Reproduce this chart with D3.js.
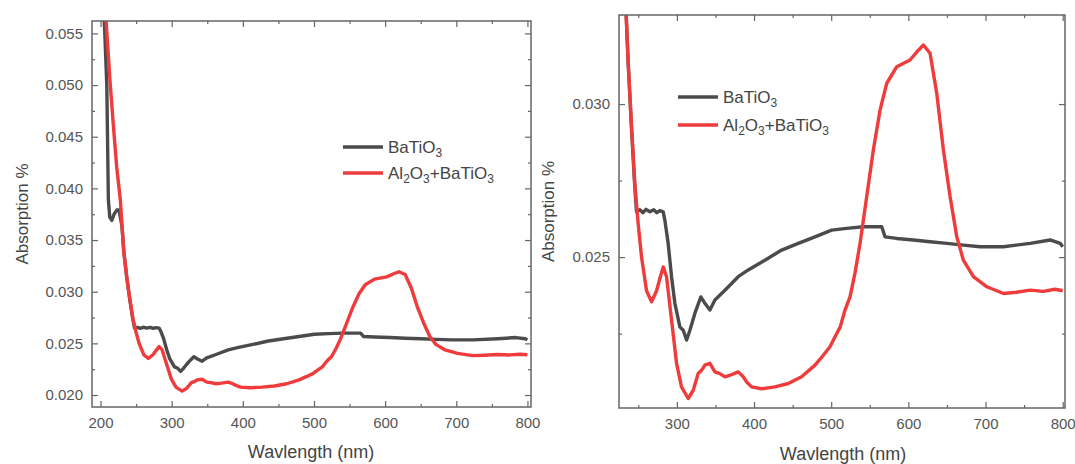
<!DOCTYPE html>
<html>
<head>
<meta charset="utf-8">
<script src="https://cdn.jsdelivr.net/npm/d3@7"></script>
<style>
  body { margin: 0; background: #fff; }
  svg { font-family: "Liberation Sans", Arial, sans-serif; }
  .tick text { fill: #555; font-size: 15px; }
  .tick line { stroke: #666; stroke-width: 1.2; }
</style>
</head>
<body>
<script>
// BaTiO3 spectrum (gray)
var batioWl = [202, 204, 206, 208.8, 211, 213, 215.9, 219, 222.8, 226, 230, 233, 237, 241, 245, 247.7, 252, 256, 260, 265, 270, 274, 278, 282.3,
  284.4, 288.7, 293.1, 297.4, 303.9, 308.2, 312.6, 316.9, 323.3, 331.1, 336.3, 342.8, 349.3, 362.3, 379.5, 392.5, 414.1, 435.8,
  457.3, 479, 500.6, 520, 541.6, 565.5, 569.8, 585, 606.5, 628.1, 649.8, 671.3, 693, 723.3, 757.9, 783.8, 796.8, 800];
var batioAbs = [0.062, 0.058, 0.055, 0.050, 0.0389, 0.0372, 0.0369, 0.0375, 0.0379, 0.0379, 0.0364, 0.0337, 0.0313, 0.0293, 0.0275, 0.02648,
  0.02655, 0.02645, 0.02656, 0.02648, 0.02655, 0.02645, 0.02652, 0.02648,
  0.02621, 0.02545, 0.02436, 0.02349, 0.02272, 0.02261, 0.02229, 0.02261, 0.02316, 0.0237, 0.02349, 0.02327, 0.0236, 0.02392, 0.02436, 0.02458, 0.0249, 0.02523,
  0.02545, 0.02566, 0.02588, 0.02594, 0.02599, 0.02599, 0.02566, 0.02561, 0.02556, 0.0255, 0.02545, 0.02539, 0.02534, 0.02534, 0.02545, 0.02556, 0.02545, 0.02534];

// Al2O3+BaTiO3 spectrum (red)
var alWl = [205, 208, 213.5, 218, 222.8, 227.8, 232.5, 236.8, 241.2, 245.5, 249.8, 254.2, 260.7, 267.2, 273.7, 278, 282.3, 286.6, 293.1, 299.6,
  306, 314.7, 321.2, 327.6, 332, 336.3, 342.8, 349.3, 355, 362.3, 370, 379.5, 386, 391, 396.9, 409.9, 427.1, 444.4, 461.7, 479, 490,
  498.4, 505, 511.7, 517.9, 524.4, 531, 537.4, 546, 554.6, 563.3, 572, 585, 602.2, 613, 619.5, 628.1, 636.8, 645.4, 654.1, 662.8,
  671.3, 684.3, 701.7, 723.3, 740, 757.9, 775, 790, 800];
var alAbs = [0.0590, 0.0560, 0.0502, 0.0461, 0.0420, 0.0389, 0.0340, 0.0314, 0.0293, 0.0274, 0.0261, 0.0250, 0.0239, 0.02354, 0.0239, 0.0243,
  0.02468, 0.02436, 0.02294, 0.02153, 0.02076, 0.02038, 0.02065, 0.0212, 0.0213, 0.02147, 0.02153, 0.02125, 0.0212, 0.02109, 0.02115,
  0.02125, 0.02109, 0.0209, 0.02076, 0.0207, 0.02076, 0.02087, 0.02109, 0.02147, 0.0218, 0.02207, 0.0224, 0.02272, 0.02327, 0.0237,
  0.0245, 0.02545, 0.02697, 0.0285, 0.0298, 0.03068, 0.03122, 0.03144, 0.03176, 0.03193, 0.03166, 0.03035, 0.0285, 0.02697, 0.02566,
  0.0249, 0.02436, 0.02403, 0.02381, 0.02385, 0.02392, 0.02388, 0.02395, 0.0239];

var seriesNames = ['BaTiO3', 'Al2O3+BaTiO3'];
var seriesColors = ['#4b4b4b', '#ef3b3b'];

var leftXTicks = [200, 300, 400, 500, 600, 700, 800];
var leftXMinor = [250, 350, 450, 550, 650, 750];
var leftYTicks = [0.020, 0.025, 0.030, 0.035, 0.040, 0.045, 0.050, 0.055];
var leftYMinor = [0.0225, 0.0275, 0.0325, 0.0375, 0.0425, 0.0475, 0.0525];
var rightXTicks = [300, 400, 500, 600, 700, 800];
var rightXMinor = [250, 350, 450, 550, 650, 750];
var rightYTicks = [0.025, 0.030];
var rightYMinor = [0.0225, 0.0275];

var svg = d3.select('body').append('svg')
            .attr('width', 1075)
            .attr('height', 464);

var panels = [
  { id: 'p1', left: 92, right: 531, top: 21, bottom: 407, xDomain: [188, 805], yDomain: [0.01884, 0.0562],
    xTicks: leftXTicks, xMinor: leftXMinor, yTicks: leftYTicks, yMinor: leftYMinor,
    yLabelX: 22, xLabelX: 311, xLabelY: 458, legend: { x: 343, y: 147, gap: 26 } },
  { id: 'p2', left: 619, right: 1065, top: 15, bottom: 408, xDomain: [225, 803], yDomain: [0.02007, 0.03291],
    xTicks: rightXTicks, xMinor: rightXMinor, yTicks: rightYTicks, yMinor: rightYMinor,
    yLabelX: 548, xLabelX: 843, xLabelY: 460, legend: { x: 678, y: 97, gap: 28 } }
];

var series = [
  batioWl.map(function(w, i){ return [w, batioAbs[i]]; }),
  alWl.map(function(w, i){ return [w, alAbs[i]]; })
];

panels.forEach(function(p){
  var x = d3.scaleLinear().domain(p.xDomain).range([p.left, p.right]);
  var y = d3.scaleLinear().domain(p.yDomain).range([p.bottom, p.top]);
  var g = svg.append('g').classed(p.id, true);

  g.append('clipPath').attr('id', 'clip-' + p.id)
   .append('rect')
   .attr('x', p.left).attr('y', p.top)
   .attr('width', p.right - p.left).attr('height', p.bottom - p.top);

  var line = d3.line()
               .x(function(d){ return x(d[0]); })
               .y(function(d){ return y(d[1]); });

  g.append('g').attr('clip-path', 'url(#clip-' + p.id + ')')
   .selectAll('path')
   .data(series)
   .enter()
   .append('path')
   .attr('d', line)
   .attr('fill', 'none')
   .attr('stroke', function(d, i){ return seriesColors[i]; })
   .attr('stroke-width', 3.4)
   .attr('stroke-linejoin', 'round');

  // ticks point inward on all four sides
  var fmt = d3.format('.3f');
  var bottomAxis = g.append('g').attr('transform', 'translate(0,' + p.bottom + ')')
                    .call(d3.axisBottom(x).tickValues(p.xTicks).tickSize(-6).tickPadding(10).tickFormat(d3.format('d')));
  g.append('g').attr('transform', 'translate(0,' + p.bottom + ')')
   .call(d3.axisBottom(x).tickValues(p.xMinor).tickSize(-3).tickFormat(''));
  g.append('g').attr('transform', 'translate(0,' + p.top + ')')
   .call(d3.axisTop(x).tickValues(p.xTicks).tickSize(-6).tickFormat(''));
  g.append('g').attr('transform', 'translate(0,' + p.top + ')')
   .call(d3.axisTop(x).tickValues(p.xMinor).tickSize(-3).tickFormat(''));
  g.append('g').attr('transform', 'translate(' + p.left + ',0)')
   .call(d3.axisLeft(y).tickValues(p.yTicks).tickSize(-6).tickPadding(9).tickFormat(fmt));
  g.append('g').attr('transform', 'translate(' + p.left + ',0)')
   .call(d3.axisLeft(y).tickValues(p.yMinor).tickSize(-3).tickFormat(''));
  g.append('g').attr('transform', 'translate(' + p.right + ',0)')
   .call(d3.axisRight(y).tickValues(p.yTicks).tickSize(-6).tickFormat(''));
  g.append('g').attr('transform', 'translate(' + p.right + ',0)')
   .call(d3.axisRight(y).tickValues(p.yMinor).tickSize(-3).tickFormat(''));
  g.selectAll('.domain').remove();

  g.append('rect')
   .attr('x', p.left).attr('y', p.top)
   .attr('width', p.right - p.left).attr('height', p.bottom - p.top)
   .attr('fill', 'none')
   .attr('stroke', '#666')
   .attr('stroke-width', 1.5);

  g.append('text')
   .attr('text-anchor', 'middle')
   .attr('x', p.xLabelX).attr('y', p.xLabelY)
   .attr('fill', '#444')
   .style('font-size', '18px')
   .text('Wavlength (nm)');

  g.append('text')
   .attr('text-anchor', 'middle')
   .attr('transform', 'translate(' + p.yLabelX + ',' + ((p.top + p.bottom) / 2) + ') rotate(-90)')
   .attr('dy', '0.35em')
   .attr('fill', '#444')
   .style('font-size', '17px')
   .text('Absorption %');

  // legend
  var leg = g.append('g').attr('transform', 'translate(' + p.legend.x + ',' + p.legend.y + ')');
  seriesNames.forEach(function(name, i){
    var yy = i * p.legend.gap;
    leg.append('line')
       .attr('x1', 0).attr('x2', 40).attr('y1', yy).attr('y2', yy)
       .attr('stroke', seriesColors[i]).attr('stroke-width', 3.4);
    var t = leg.append('text').attr('x', 45).attr('y', yy + 6)
               .attr('fill', '#444').style('font-size', '17px');
    // split into plain text and subscript digits
    var parts = name.match(/[A-Za-z+]+|\d+/g);
    parts.forEach(function(part){
      var isSub = /^\d+$/.test(part);
      t.append('tspan')
       .attr('dy', isSub ? 4 : (part === parts[0] ? 0 : -4))
       .style('font-size', isSub ? '12px' : '17px')
       .text(part);
    });
  });
});
</script>
</body>
</html>
